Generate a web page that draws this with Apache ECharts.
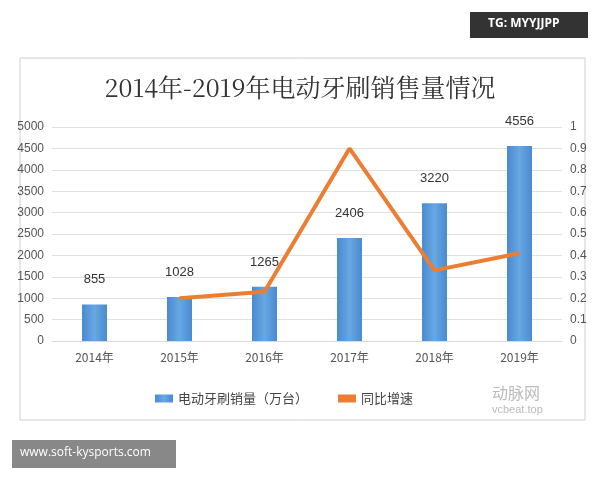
<!DOCTYPE html>
<html><head><meta charset="utf-8">
<script src="https://cdn.jsdelivr.net/npm/echarts@6/dist/echarts.min.js"></script>
<style>html,body{margin:0;padding:0;background:#fff}#main{width:600px;height:480px}</style>
</head><body><div id="main"></div>
<script>
var years = ['2014年', '2015年', '2016年', '2017年', '2018年', '2019年'];
var sales = [855, 1028, 1265, 2406, 3220, 4556];
var growth = [null, 0.20, 0.23, 0.90, 0.33, 0.41];

var chart = echarts.init(document.getElementById('main'));
var font = '"Noto Sans CJK SC", sans-serif';
chart.setOption({
    animation: false,
    backgroundColor: '#fff',
    graphic: [
        {type: 'rect', shape: {x: 20, y: 58, width: 565, height: 362}, style: {fill: '#fff', stroke: '#d0d0d0', lineWidth: 1}},
        {type: 'rect', shape: {x: 470, y: 12, width: 118, height: 26}, style: {fill: '#333'}},
        {type: 'text', left: 488, top: 18, style: {text: 'TG: MYYJJPP', fill: '#fff', font: 'bold 12px "Open Sans", sans-serif'}},
        {type: 'rect', shape: {x: 12, y: 440, width: 164, height: 28}, style: {fill: '#888'}},
        {type: 'text', left: 20, top: 447, style: {text: 'www.soft-kysports.com', fill: '#fff', font: '12px "Open Sans", sans-serif'}},
        {type: 'text', left: 492, top: 385, style: {text: '动脉网', fill: '#bbb', font: '16px ' + font}},
        {type: 'text', left: 492, top: 404, style: {text: 'vcbeat.top', fill: '#bbb', font: '11px sans-serif'}}
    ],
    title: {
        text: '2014年-2019年电动牙刷销售量情况',
        left: 'center', top: 70,
        textStyle: {fontFamily: '"Noto Serif CJK SC", "Noto Sans CJK SC", serif', fontSize: 25, fontWeight: 'normal', color: '#333'}
    },
    legend: {
        bottom: 70, left: 150, itemGap: 30,
        textStyle: {fontFamily: font, fontSize: 13, color: '#444'},
        data: [
            {name: '电动牙刷销量（万台）', icon: 'rect'},
            {name: '同比增速', icon: 'rect'}
        ],
        itemWidth: 18, itemHeight: 8
    },
    grid: {left: 52, right: 38, top: 127, bottom: 139},
    xAxis: {
        type: 'category', data: years,
        axisLine: {lineStyle: {color: '#d9d9d9'}}, axisTick: {show: false},
        axisLabel: {color: '#555', fontSize: 12, fontFamily: font, margin: 10}
    },
    yAxis: [
        {type: 'value', min: 0, max: 5000, interval: 500,
         axisLabel: {color: '#555', fontSize: 12, formatter: function (v) { return String(v); }},
         splitLine: {lineStyle: {color: '#e0e0e0'}}},
        {type: 'value', min: 0, max: 1, interval: 0.1,
         axisLabel: {color: '#555', fontSize: 12, formatter: function (v) { return String(+v.toFixed(1)); }}, splitLine: {show: false}}
    ],
    series: [
        {name: '电动牙刷销量（万台）', type: 'bar', data: sales, barWidth: 25,
         itemStyle: {color: new echarts.graphic.LinearGradient(0, 0, 1, 0, [
             {offset: 0, color: '#4a8ad0'}, {offset: 0.5, color: '#67a7e2'}, {offset: 1, color: '#4a8ad0'}])},
         label: {show: true, position: 'top', distance: 18, color: '#333', fontSize: 13}},
        {name: '同比增速', type: 'line', yAxisIndex: 1, data: growth,
         symbol: 'none', lineStyle: {color: '#ed7d31', width: 4}, itemStyle: {color: '#ed7d31'}}
    ]
});
</script></body></html>
